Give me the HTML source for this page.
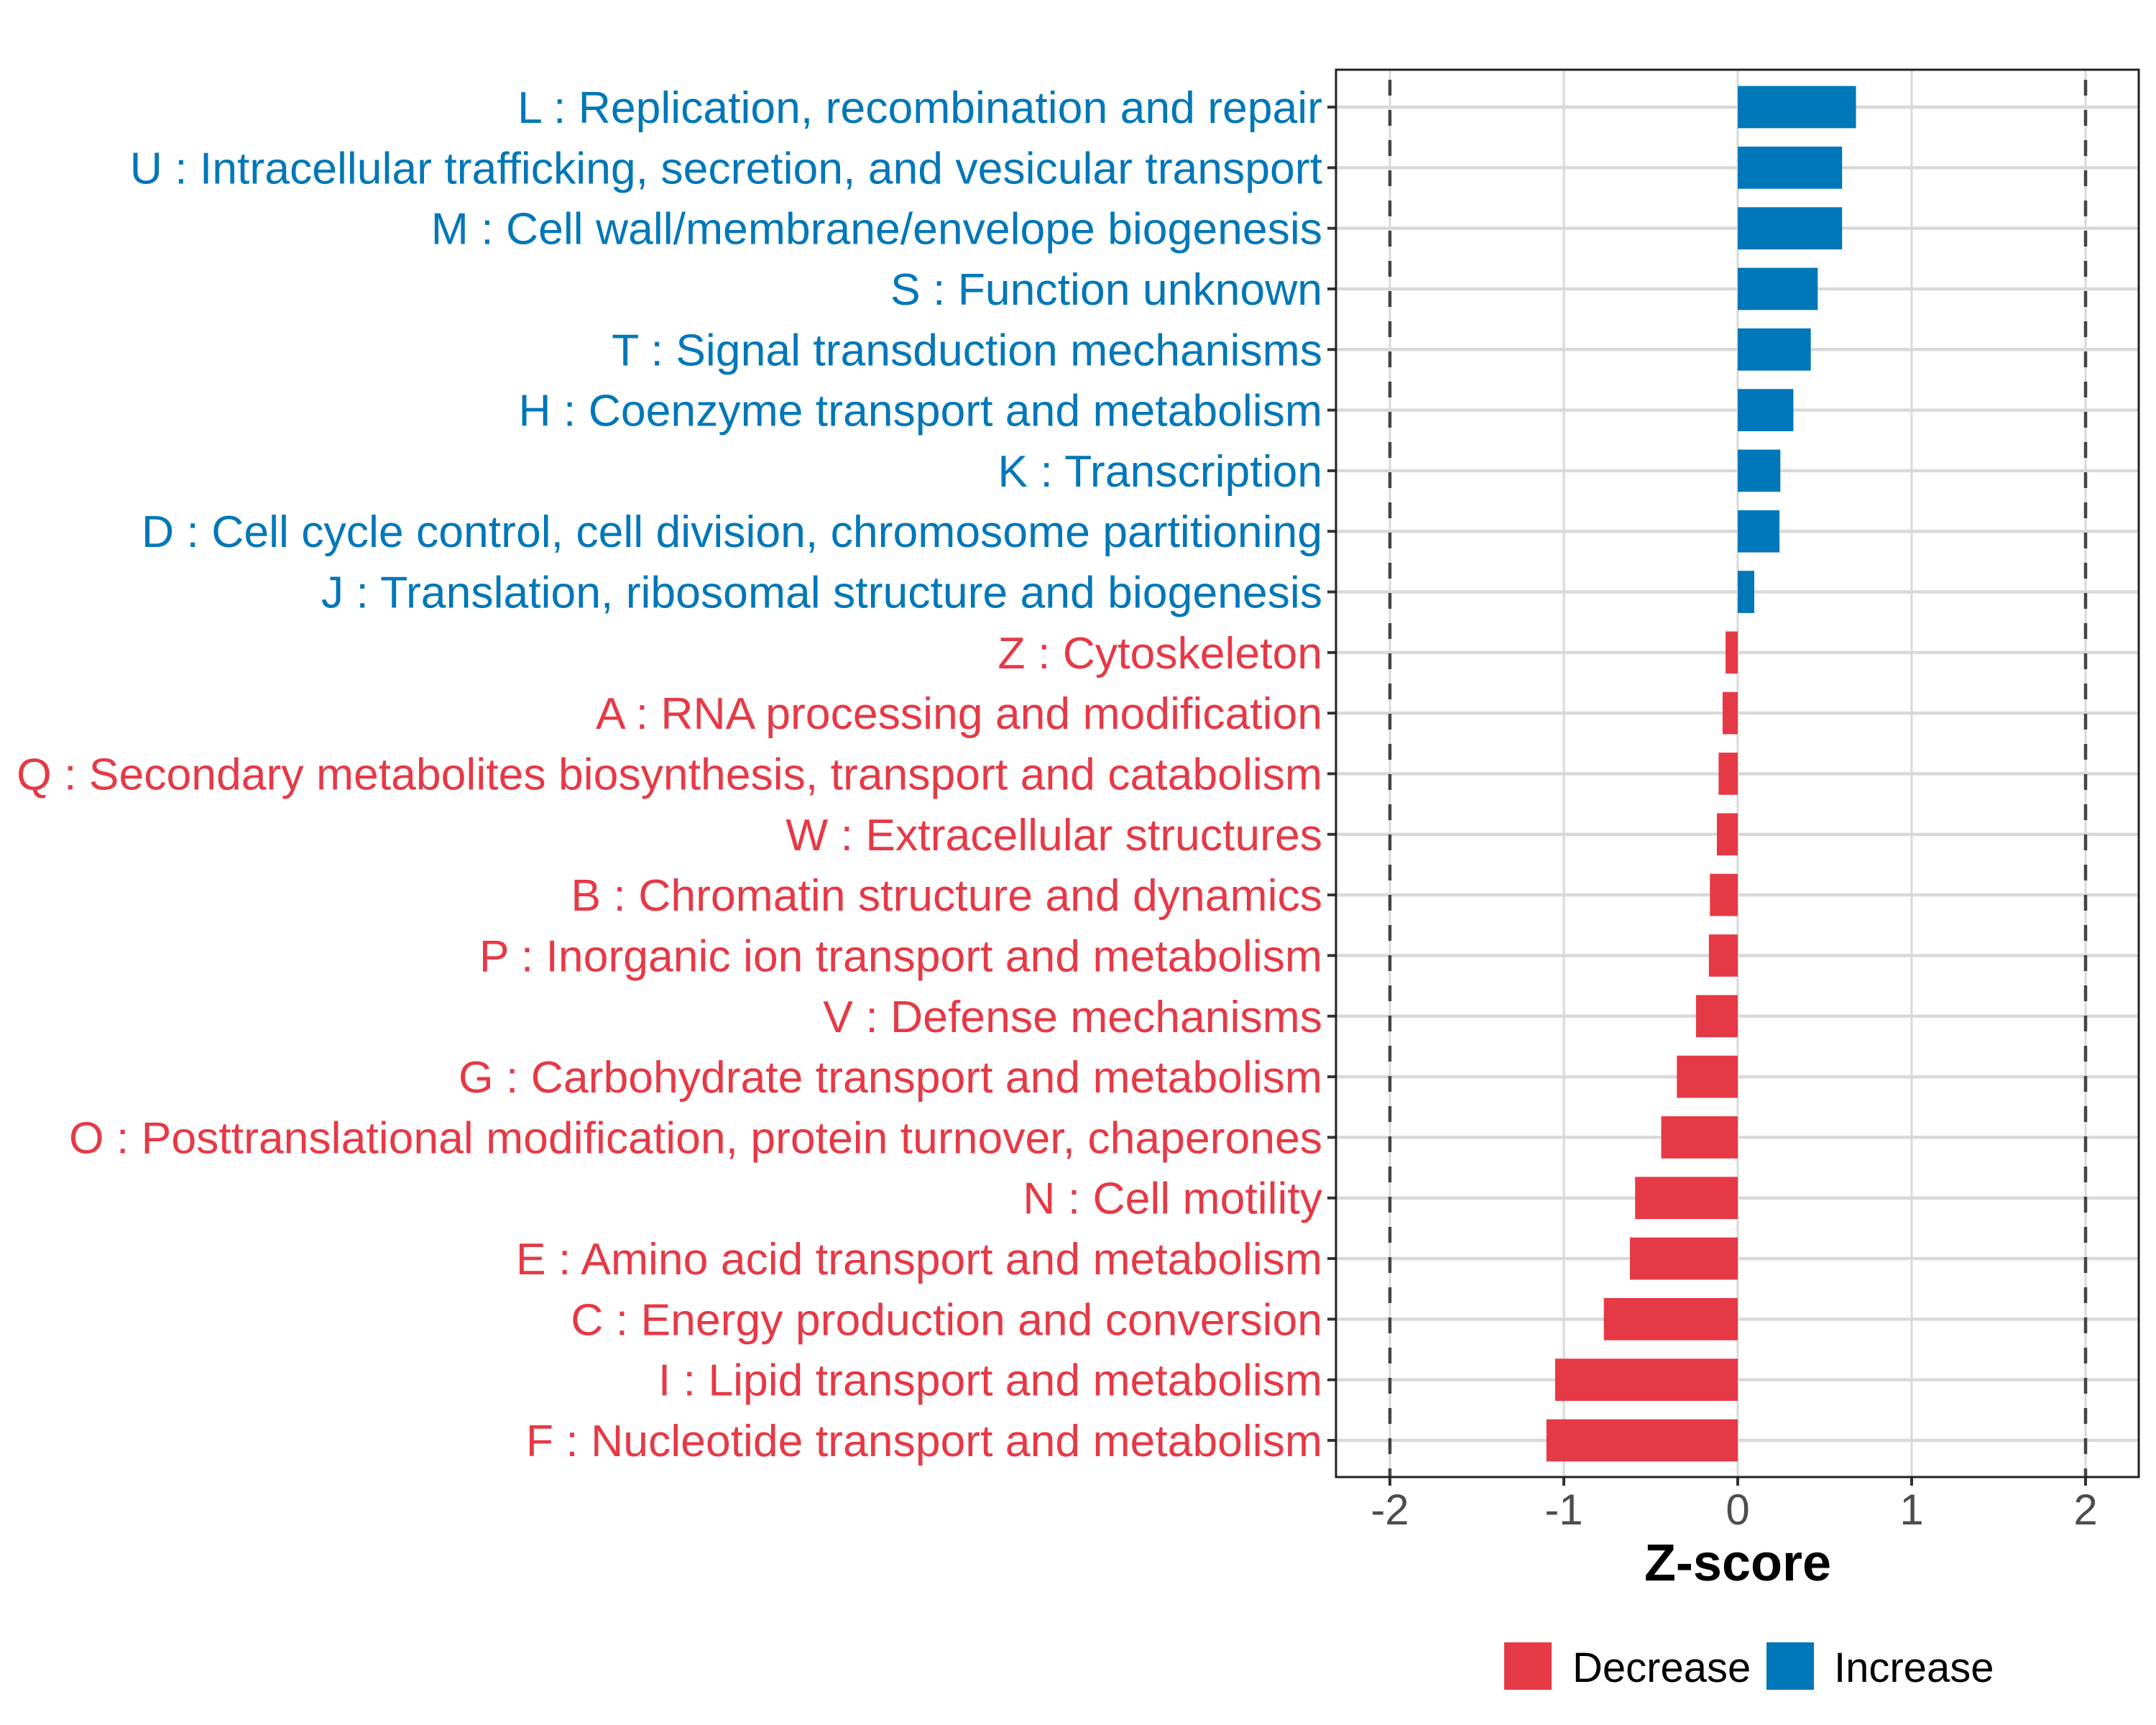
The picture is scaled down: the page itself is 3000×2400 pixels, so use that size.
<!DOCTYPE html>
<html><head><meta charset="utf-8"><style>
html,body{margin:0;padding:0;background:#fff;}
svg{display:block;font-family:"Liberation Sans",Arial,sans-serif;}
</style></head><body>
<svg id="chart" width="3000" height="2400" viewBox="0 0 3000 2400" xmlns="http://www.w3.org/2000/svg">
<rect width="3000" height="2400" fill="#fff"/>
<g id="grid"></g><g id="bars"></g><g id="ylabels"></g><g id="xaxis"></g>
</svg>
<script>
const categories = ["L : Replication, recombination and repair","U : Intracellular trafficking, secretion, and vesicular transport","M : Cell wall/membrane/envelope biogenesis","S : Function unknown","T : Signal transduction mechanisms","H : Coenzyme transport and metabolism","K : Transcription","D : Cell cycle control, cell division, chromosome partitioning","J : Translation, ribosomal structure and biogenesis","Z : Cytoskeleton","A : RNA processing and modification","Q : Secondary metabolites biosynthesis, transport and catabolism","W : Extracellular structures","B : Chromatin structure and dynamics","P : Inorganic ion transport and metabolism","V : Defense mechanisms","G : Carbohydrate transport and metabolism","O : Posttranslational modification, protein turnover, chaperones","N : Cell motility","E : Amino acid transport and metabolism","C : Energy production and conversion","I : Lipid transport and metabolism","F : Nucleotide transport and metabolism"];
const zscores = [0.68,0.60,0.60,0.46,0.42,0.32,0.245,0.24,0.095,-0.07,-0.087,-0.11,-0.12,-0.16,-0.166,-0.24,-0.35,-0.44,-0.59,-0.62,-0.77,-1.05,-1.10];
const xTicks = [-2,-1,0,1,2];
const xTickLabels = ["-2","-1","0","1","2"];
const thresholds = [-2,2];

const NS="http://www.w3.org/2000/svg";
const PL=1859, PR=2976, PT=97, PB=2055;
const X0=2418, UNIT=242;
const xs = v => X0 + v*UNIT;
const Y0=149, STEP=(2004-149)/22;
const ys = i => Y0 + i*STEP;
const BLUE="#0077B8", RED="#E63946";
function mk(tag, attrs, parent){const e=document.createElementNS(NS,tag);for(const k in attrs)e.setAttribute(k,attrs[k]);parent.appendChild(e);return e;}
const svg=document.getElementById('chart');
const grid=document.getElementById('grid'), bars=document.getElementById('bars'), yl=document.getElementById('ylabels'), xa=document.getElementById('xaxis');

categories.forEach((c,i)=>{
  const l=mk('line',{x1:PL,x2:PR,y1:ys(i),y2:ys(i),stroke:"#d9d9d9","stroke-width":4.5},grid);
  
  
});
xTicks.forEach(t=>{
  const l=mk('line',{x1:xs(t),x2:xs(t),y1:PT,y2:PB,stroke:"#d9d9d9","stroke-width":3},grid);
  
  
});
thresholds.forEach(t=>{
  const l=mk('line',{x1:xs(t),x2:xs(t),y1:PT,y2:PB,stroke:"#444","stroke-width":4.5,"stroke-dasharray":"22 20","stroke-dashoffset":"-14"},grid);
  
  
});
const BH=58.7;
zscores.forEach((v,i)=>{
  const x=Math.min(xs(0),xs(v)), w=Math.abs(xs(v)-xs(0));
  const r=mk('rect',{x:x,y:ys(i)-BH/2,width:w,height:BH,fill:v>=0?BLUE:RED},bars);
  
  
});
const border=mk('rect',{x:PL,y:PT,width:PR-PL,height:PB-PT,fill:"none",stroke:"#222","stroke-width":3},svg);


categories.forEach((c,i)=>{
  const tk=mk('line',{x1:PL-12,x2:PL,y1:ys(i),y2:ys(i),stroke:"#333","stroke-width":4},yl);
  
  
  const t=mk('text',{x:1840,y:ys(i)+22,"text-anchor":"end","font-size":62.5,fill:zscores[i]>=0?BLUE:RED},yl);
  t.textContent=c;
  
  
});
xTicks.forEach((v,i)=>{
  const tk=mk('line',{x1:xs(v),x2:xs(v),y1:PB,y2:PB+12,stroke:"#333","stroke-width":4},xa);
  
  
  const t=mk('text',{x:xs(v),y:2121,"text-anchor":"middle","font-size":60,fill:"#4d4d4d"},xa);
  t.textContent=xTickLabels[i];
  
  
});
const xt=mk('text',{x:X0,y:2199,"text-anchor":"middle","font-size":72,"font-weight":"bold",fill:"#000"},xa);
xt.textContent="Z-score";


const lg=mk('g',{},svg);


[["Decrease",RED,2093,2188],["Increase",BLUE,2458,2552]].forEach(([lab,col,kx,tx])=>{
  const r=mk('rect',{x:kx,y:2285,width:66,height:66,fill:col},lg);
  
  
  const t=mk('text',{x:tx,y:2340,"font-size":58,fill:"#000"},lg);
  t.textContent=lab;
  
  
});
</script>
</body></html>
